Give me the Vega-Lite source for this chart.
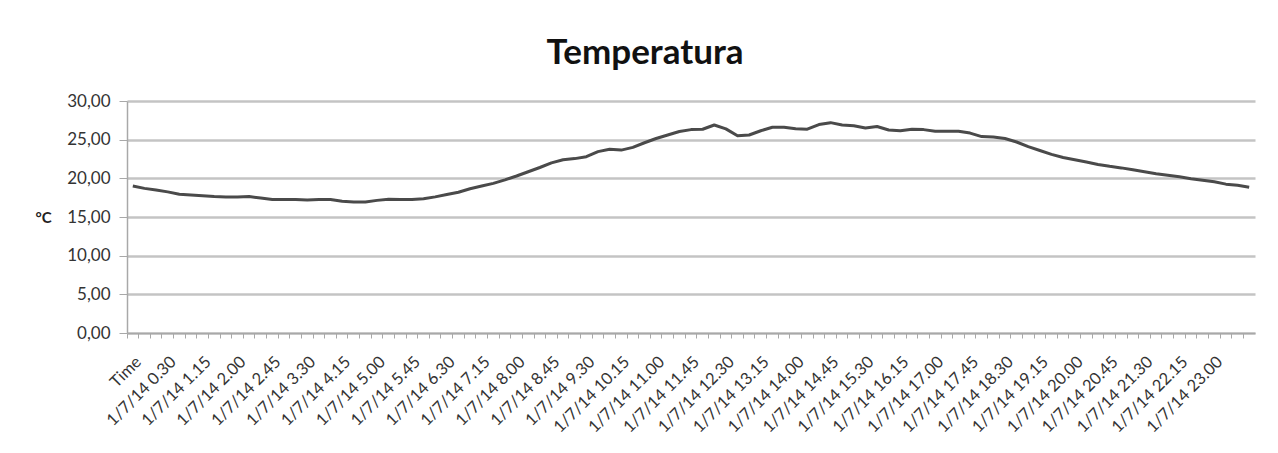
{
  "$schema": "https://vega.github.io/schema/vega-lite/v6.json",
  "width": 1128,
  "height": 232,
  "autosize": "none",
  "padding": {"left": 127, "top": 101, "right": 23, "bottom": 120},
  "background": "white",
  "title": {
    "text": "Temperatura",
    "font": "Lato",
    "fontSize": 35,
    "fontWeight": "bold",
    "color": "#111111",
    "anchor": "middle",
    "frame": "group",
    "baseline": "alphabetic",
    "offset": 35,
    "dy": 42,
    "dx": -46
  },
  "config": {
    "view": {"stroke": null},
    "font": "Lato"
  },
  "data": {
    "values": [
      {"t": "Time", "v": 19.0},
      {"t": "1/7/14 0.00", "v": 18.7},
      {"t": "1/7/14 0.15", "v": 18.5},
      {"t": "1/7/14 0.30", "v": 18.25},
      {"t": "1/7/14 0.45", "v": 17.95},
      {"t": "1/7/14 1.00", "v": 17.85},
      {"t": "1/7/14 1.15", "v": 17.75},
      {"t": "1/7/14 1.30", "v": 17.65},
      {"t": "1/7/14 1.45", "v": 17.6},
      {"t": "1/7/14 2.00", "v": 17.6},
      {"t": "1/7/14 2.15", "v": 17.65},
      {"t": "1/7/14 2.30", "v": 17.45},
      {"t": "1/7/14 2.45", "v": 17.25},
      {"t": "1/7/14 3.00", "v": 17.25},
      {"t": "1/7/14 3.15", "v": 17.25},
      {"t": "1/7/14 3.30", "v": 17.2},
      {"t": "1/7/14 3.45", "v": 17.25},
      {"t": "1/7/14 4.00", "v": 17.25},
      {"t": "1/7/14 4.15", "v": 17.05},
      {"t": "1/7/14 4.30", "v": 16.95},
      {"t": "1/7/14 4.45", "v": 16.95},
      {"t": "1/7/14 5.00", "v": 17.15},
      {"t": "1/7/14 5.15", "v": 17.3},
      {"t": "1/7/14 5.30", "v": 17.25},
      {"t": "1/7/14 5.45", "v": 17.25},
      {"t": "1/7/14 6.00", "v": 17.35},
      {"t": "1/7/14 6.15", "v": 17.6},
      {"t": "1/7/14 6.30", "v": 17.9},
      {"t": "1/7/14 6.45", "v": 18.2},
      {"t": "1/7/14 7.00", "v": 18.65},
      {"t": "1/7/14 7.15", "v": 19.0},
      {"t": "1/7/14 7.30", "v": 19.35},
      {"t": "1/7/14 7.45", "v": 19.8},
      {"t": "1/7/14 8.00", "v": 20.3},
      {"t": "1/7/14 8.15", "v": 20.85},
      {"t": "1/7/14 8.30", "v": 21.4},
      {"t": "1/7/14 8.45", "v": 22.0},
      {"t": "1/7/14 9.00", "v": 22.4},
      {"t": "1/7/14 9.15", "v": 22.55},
      {"t": "1/7/14 9.30", "v": 22.8},
      {"t": "1/7/14 9.45", "v": 23.45},
      {"t": "1/7/14 10.00", "v": 23.75},
      {"t": "1/7/14 10.15", "v": 23.65},
      {"t": "1/7/14 10.30", "v": 24.0},
      {"t": "1/7/14 10.45", "v": 24.6},
      {"t": "1/7/14 11.00", "v": 25.15},
      {"t": "1/7/14 11.15", "v": 25.6},
      {"t": "1/7/14 11.30", "v": 26.05},
      {"t": "1/7/14 11.45", "v": 26.3},
      {"t": "1/7/14 12.00", "v": 26.35},
      {"t": "1/7/14 12.15", "v": 26.9},
      {"t": "1/7/14 12.30", "v": 26.4},
      {"t": "1/7/14 12.45", "v": 25.5},
      {"t": "1/7/14 13.00", "v": 25.6},
      {"t": "1/7/14 13.15", "v": 26.15},
      {"t": "1/7/14 13.30", "v": 26.6},
      {"t": "1/7/14 13.45", "v": 26.6},
      {"t": "1/7/14 14.00", "v": 26.4},
      {"t": "1/7/14 14.15", "v": 26.35},
      {"t": "1/7/14 14.30", "v": 26.95},
      {"t": "1/7/14 14.45", "v": 27.2},
      {"t": "1/7/14 15.00", "v": 26.9},
      {"t": "1/7/14 15.15", "v": 26.8},
      {"t": "1/7/14 15.30", "v": 26.5},
      {"t": "1/7/14 15.45", "v": 26.7},
      {"t": "1/7/14 16.00", "v": 26.25},
      {"t": "1/7/14 16.15", "v": 26.15},
      {"t": "1/7/14 16.30", "v": 26.35},
      {"t": "1/7/14 16.45", "v": 26.3},
      {"t": "1/7/14 17.00", "v": 26.1},
      {"t": "1/7/14 17.15", "v": 26.1},
      {"t": "1/7/14 17.30", "v": 26.1},
      {"t": "1/7/14 17.45", "v": 25.85},
      {"t": "1/7/14 18.00", "v": 25.4},
      {"t": "1/7/14 18.15", "v": 25.35},
      {"t": "1/7/14 18.30", "v": 25.15},
      {"t": "1/7/14 18.45", "v": 24.7},
      {"t": "1/7/14 19.00", "v": 24.1},
      {"t": "1/7/14 19.15", "v": 23.6},
      {"t": "1/7/14 19.30", "v": 23.1},
      {"t": "1/7/14 19.45", "v": 22.7},
      {"t": "1/7/14 20.00", "v": 22.4},
      {"t": "1/7/14 20.15", "v": 22.1},
      {"t": "1/7/14 20.30", "v": 21.8},
      {"t": "1/7/14 20.45", "v": 21.55},
      {"t": "1/7/14 21.00", "v": 21.35},
      {"t": "1/7/14 21.15", "v": 21.1},
      {"t": "1/7/14 21.30", "v": 20.85},
      {"t": "1/7/14 21.45", "v": 20.6},
      {"t": "1/7/14 22.00", "v": 20.4},
      {"t": "1/7/14 22.15", "v": 20.2},
      {"t": "1/7/14 22.30", "v": 19.95},
      {"t": "1/7/14 22.45", "v": 19.75},
      {"t": "1/7/14 23.00", "v": 19.55},
      {"t": "1/7/14 23.15", "v": 19.25},
      {"t": "1/7/14 23.30", "v": 19.1},
      {"t": "1/7/14 23.45", "v": 18.85}
    ]
  },
  "mark": {"type": "line", "color": "#4a4a4a", "strokeWidth": 3, "strokeJoin": "round"},
  "encoding": {
    "x": {
      "field": "t",
      "type": "nominal",
      "sort": null,
      "bandPosition": 0.5,
      "scale": {"type": "band", "paddingInner": 0, "paddingOuter": 0},
      "axis": {
        "title": null,
        "bandPosition": 0,
        "labelOffset": 5.8,
        "labelAngle": -45,
        "labelAlign": "right",
        "labelBaseline": "middle",
        "labelFont": "Lato",
        "labelFontSize": 16.5,
        "labelColor": "#333333",
        "labelPadding": 21,
        "labelOverlap": false,
        "labelFlush": false,
        "labelBound": false,
        "labelLimit": 0,
        "tickSize": 5,
        "tickColor": "#a8a8a8",
        "domainColor": "#a8a8a8",
        "domainWidth": 1.5,
        "grid": false,
        "labelExpr": "indexof(['Time','1/7/14 0.30','1/7/14 1.15','1/7/14 2.00','1/7/14 2.45','1/7/14 3.30','1/7/14 4.15','1/7/14 5.00','1/7/14 5.45','1/7/14 6.30','1/7/14 7.15','1/7/14 8.00','1/7/14 8.45','1/7/14 9.30','1/7/14 10.15','1/7/14 11.00','1/7/14 11.45','1/7/14 12.30','1/7/14 13.15','1/7/14 14.00','1/7/14 14.45','1/7/14 15.30','1/7/14 16.15','1/7/14 17.00','1/7/14 17.45','1/7/14 18.30','1/7/14 19.15','1/7/14 20.00','1/7/14 20.45','1/7/14 21.30','1/7/14 22.15','1/7/14 23.00'], datum.value) >= 0 ? datum.value : ''"
      }
    },
    "y": {
      "field": "v",
      "type": "quantitative",
      "scale": {"domain": [0, 30], "nice": false, "zero": true},
      "axis": {
        "title": "°C",
        "titleAngle": 0,
        "titleX": -84,
        "titleY": 116,
        "titleAlign": "center",
        "titleBaseline": "middle",
        "titleFont": "Lato",
        "titleFontSize": 15,
        "titleFontWeight": "bold",
        "titleColor": "#222222",
        "values": [0, 5, 10, 15, 20, 25, 30],
        "labelExpr": "replace(format(datum.value, '.2f'), '.', ',')",
        "labelFont": "Lato",
        "labelFontSize": 17,
        "labelColor": "#333333",
        "labelPadding": 9,
        "tickSize": 8,
        "tickColor": "#a8a8a8",
        "domainColor": "#a8a8a8",
        "domainWidth": 1.5,
        "grid": true,
        "gridColor": "#c4c4c4",
        "gridWidth": 2.5
      }
    }
  }
}
